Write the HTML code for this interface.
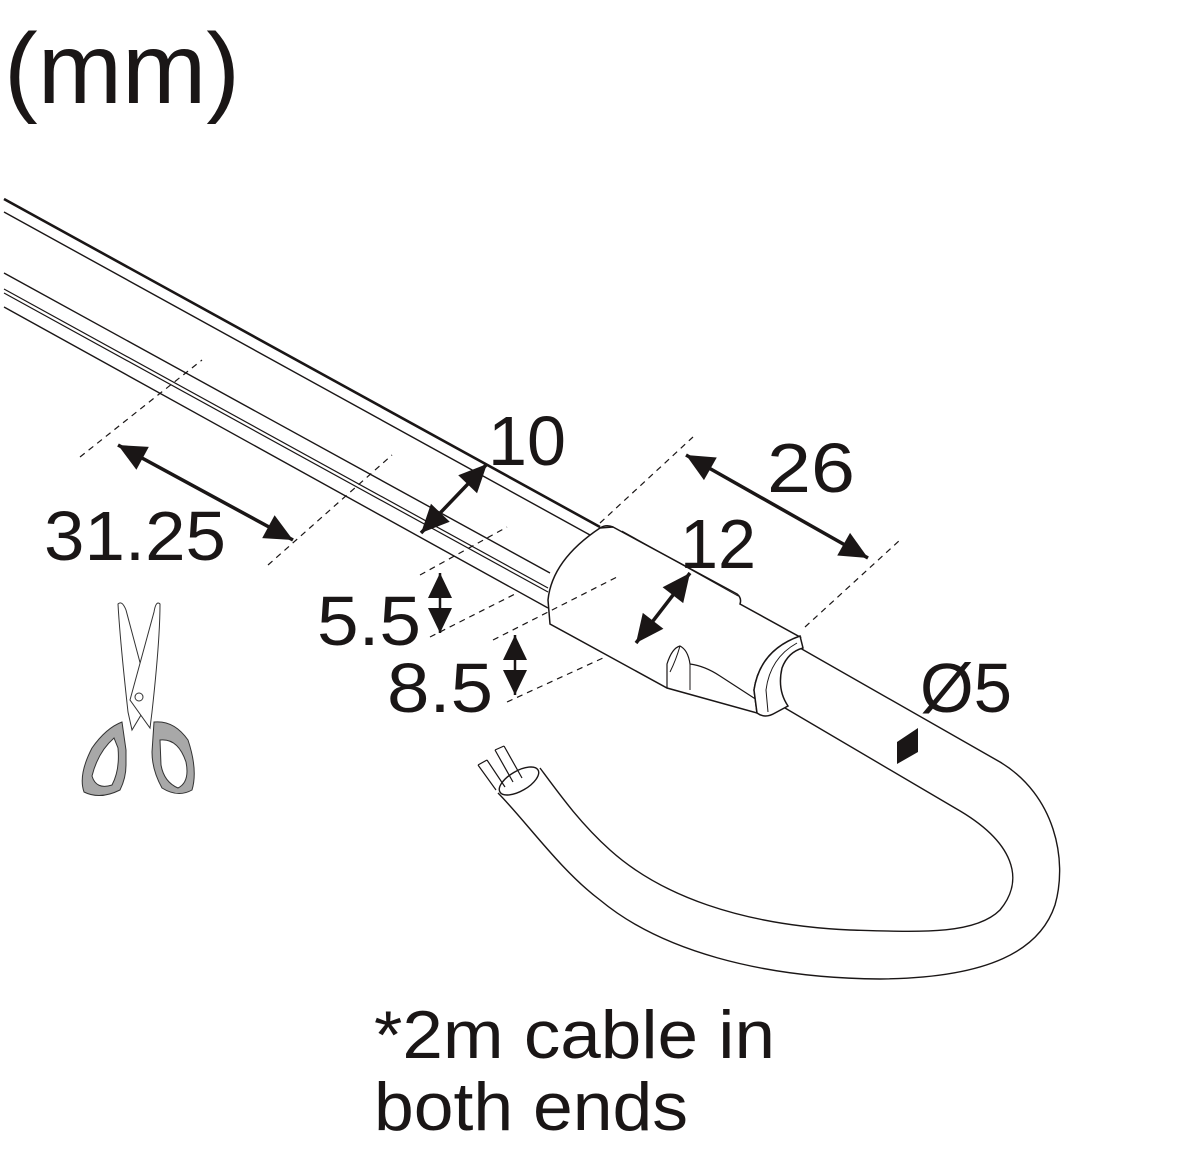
<!DOCTYPE html>
<html><head><meta charset="utf-8"><style>
html,body{margin:0;padding:0;background:#fff}
svg{display:block}
text{font-family:"Liberation Sans",sans-serif;fill:#1a1616}
</style></head><body>
<svg width="1200" height="1154" viewBox="0 0 1200 1154" xmlns="http://www.w3.org/2000/svg">
<defs>
<marker id="ah" viewBox="0 0 10 10" refX="9" refY="5" markerWidth="10" markerHeight="10" orient="auto-start-reverse" markerUnits="userSpaceOnUse" style="overflow:visible">
<path d="M-19,-8 L9,5 L-19,18 Z" fill="#1a1616"/>
</marker>
<marker id="ah2" viewBox="0 0 10 10" refX="9" refY="5" markerWidth="10" markerHeight="10" orient="auto-start-reverse" markerUnits="userSpaceOnUse" style="overflow:visible">
<path d="M-16,-7 L9,5 L-16,17 Z" fill="#1a1616"/>
</marker>
</defs>
<text x="4" y="103" font-size="100" textLength="236" lengthAdjust="spacingAndGlyphs">(mm)</text>

<g stroke="#1a1616" fill="none">
<line x1="4" y1="199" x2="600" y2="527" stroke-width="2.6"/>
<line x1="4" y1="212" x2="590" y2="535" stroke-width="1.4"/>
<line x1="4" y1="273" x2="550" y2="573" stroke-width="1.4"/>
<line x1="4" y1="289" x2="548" y2="588" stroke-width="1.2"/>
<line x1="4" y1="293" x2="548" y2="592" stroke-width="1.2"/>
<line x1="4" y1="307" x2="548" y2="608" stroke-width="1.4"/>
</g>

<!-- cable -->
<g stroke="#1a1616" fill="none" stroke-width="1.4">
<path d="M800,648 L1000,762 C1055,795 1068,860 1055,905 C1040,950 990,978 880,979 C760,978 660,950 600,900 C560,870 525,820 498,793"/>
<path d="M785,708 L955,808 C1015,842 1025,880 1000,910 C975,935 920,932 850,930 C740,925 660,895 610,850 C580,823 560,795 540,768"/>
<ellipse cx="519" cy="781" rx="22" ry="10" transform="rotate(-30 519 781)" fill="#fff"/>
<path d="M496,790 L478,765 M505,787 L487,760 M478,765 L487,760" stroke-width="1.2"/>
<path d="M513,782 L495,750 M522,778 L504,746 M495,750 L504,746" stroke-width="1.2"/>
</g>

<!-- connector -->
<g stroke="#1a1616" fill="#fff" stroke-width="1.5">
<path d="M613,527 L737,594 Q742,598 740,604 L800,637 Q760,650 754,690 L757,713 L667,688 L550,624 L548,600 Q552,560 600,528 Z"/>
<path d="M613,527 Q606,524 600,528" fill="none"/>
<path d="M622,531 L738,596" fill="none" stroke-width="1"/>
<path d="M667,688 L667,664 Q672,648 680,646 Q688,650 690,664 Q705,666 720,676 L757,700" fill="none" stroke-width="1.2"/>
<path d="M680,646 Q676,660 670,672 M690,664 L690,690" fill="none" stroke-width="1"/>
<path d="M800,636 Q760,650 754,690 L757,713 Q765,719 775,713 L788,706 Q777,690 782,668 Q788,652 803,648 Z"/>
<path d="M797,643 Q770,658 766,690 L768,712" fill="none" stroke-width="1"/>
</g>
<path d="M897,742 L918,728 L918,752 L897,764 Z" fill="#1a1616"/>

<g stroke="#1a1616" stroke-width="1.2" stroke-dasharray="6,5" fill="none">
<line x1="80" y1="457" x2="202" y2="360"/>
<line x1="268" y1="565" x2="392" y2="455"/>
<line x1="420" y1="575" x2="507" y2="527"/>
<line x1="430" y1="637" x2="517" y2="593"/>
<line x1="493" y1="640" x2="617" y2="577"/>
<line x1="507" y1="702" x2="603" y2="658"/>
<line x1="600" y1="523" x2="693" y2="437"/>
<line x1="805" y1="627" x2="900" y2="540"/>
</g>

<g stroke="#1a1616" stroke-width="3.5" fill="none" marker-start="url(#ah)" marker-end="url(#ah)">
<line x1="118" y1="445" x2="293" y2="540"/>
<line x1="421" y1="533" x2="487" y2="464"/>
<line x1="686" y1="455" x2="868" y2="558"/>
<line x1="636" y1="643" x2="690" y2="573"/>
</g>
<g stroke="#1a1616" stroke-width="2.5" fill="none" marker-start="url(#ah2)" marker-end="url(#ah2)">
<line x1="440" y1="573" x2="440" y2="633"/>
<line x1="515" y1="635" x2="515" y2="695"/>
</g>

<text x="44" y="560" font-size="70" textLength="182" lengthAdjust="spacingAndGlyphs">31.25</text>
<text x="488" y="465" font-size="70" textLength="78" lengthAdjust="spacingAndGlyphs">10</text>
<text x="767" y="492" font-size="70" textLength="88" lengthAdjust="spacingAndGlyphs">26</text>
<text x="680" y="568" font-size="70" textLength="76" lengthAdjust="spacingAndGlyphs">12</text>
<text x="317" y="645" font-size="70" textLength="104" lengthAdjust="spacingAndGlyphs">5.5</text>
<text x="387" y="712" font-size="70" textLength="106" lengthAdjust="spacingAndGlyphs">8.5</text>
<text x="920" y="712" font-size="70" textLength="92" lengthAdjust="spacingAndGlyphs">Ø5</text>

<text x="374" y="1058" font-size="68" textLength="401" lengthAdjust="spacingAndGlyphs">*2m cable in</text>
<text x="374" y="1130" font-size="68" textLength="314" lengthAdjust="spacingAndGlyphs">both ends</text>

<g stroke="#333" stroke-width="1" fill="#fff">
<path d="M118,604 Q122,600 126,610 L150,700 L132,730 L128,712 Q120,640 118,604 Z"/>
<path d="M160,604 Q156,600 154,612 L130,700 L150,728 L152,712 Q160,640 160,604 Z"/>
<circle cx="139" cy="697" r="4"/>
<path d="M122,722 Q106,728 92,748 Q78,775 84,792 Q100,800 120,790 Q126,778 126,765 L126,750 Z" fill="#a8a8a8"/>
<path d="M114,738 Q98,752 92,776 Q96,790 112,785 Q120,770 118,748 Z" fill="#fff"/>
<path d="M154,722 Q174,720 188,740 Q198,770 192,790 Q178,798 162,788 Q152,770 152,752 Z" fill="#a8a8a8"/>
<path d="M160,740 Q178,738 186,762 Q190,782 178,788 Q164,782 161,765 Z" fill="#fff"/>
</g>
</svg>
</body></html>
